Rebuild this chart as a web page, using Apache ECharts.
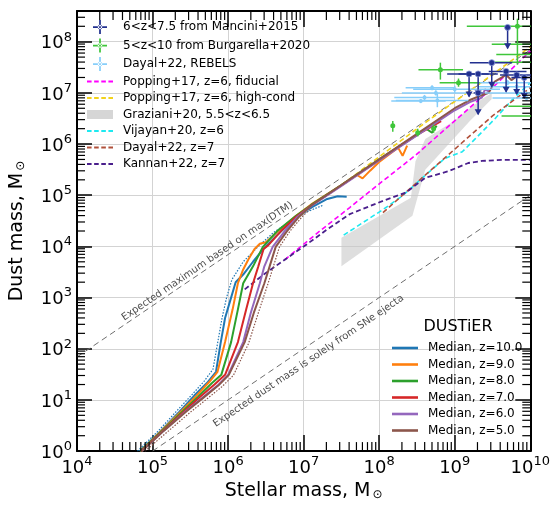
<!DOCTYPE html>
<html>
<head>
<meta charset="utf-8">
<title>Dust mass vs stellar mass</title>
<script src="https://cdn.jsdelivr.net/npm/echarts@6.0.0/dist/echarts.min.js"></script>
<style>
  html, body { margin: 0; padding: 0; background: #fff; }
  #chart { width: 553px; height: 506px; }
</style>
</head>
<body>
<div id="chart"></div>
<script>
// every value is log10(M*), log10(Mdust)

// DUSTiER medians
const z10 = [[4.83,0],[5.1,0.38],[5.35,0.76],[5.55,1.08],[5.72,1.33],[5.84,1.55],[5.9,2.1],[5.96,2.6],[6.03,2.95],[6.1,3.3],[6.2,3.45],[6.33,3.7],[6.48,3.97],[6.65,4.22],[6.85,4.5],[7.05,4.72],[7.3,4.92],[7.45,4.98],[7.57,4.97]];
const z9 = [[4.84,0],[5.12,0.4],[5.38,0.78],[5.58,1.08],[5.75,1.35],[5.86,1.55],[5.96,2.13],[6.06,2.77],[6.13,3.28],[6.2,3.55],[6.27,3.75],[6.35,3.95],[6.42,4.05],[6.5,4.08],[6.7,4.35],[6.9,4.6],[7.1,4.82],[7.5,5.2],[7.7,5.4],[7.78,5.33],[7.88,5.48],[8.0,5.65],[8.25,5.93],[8.31,5.77],[8.37,5.97]];
const z8 = [[4.84,0],[5.13,0.4],[5.4,0.78],[5.6,1.06],[5.78,1.32],[5.91,1.49],[6.04,2.13],[6.13,2.77],[6.2,3.28],[6.33,3.61],[6.46,3.99],[6.65,4.3],[6.9,4.6],[7.1,4.81],[7.5,5.2],[8.0,5.7],[8.5,6.18],[8.62,6.3],[8.7,6.22],[8.76,6.36]];
const z7 = [[4.85,0],[5.14,0.4],[5.42,0.78],[5.63,1.06],[5.82,1.3],[5.96,1.49],[6.13,2.13],[6.24,2.77],[6.33,3.28],[6.4,3.61],[6.47,3.95],[6.53,4.02],[6.7,4.3],[6.9,4.58],[7.1,4.8],[7.5,5.19],[8.0,5.69],[8.5,6.18],[8.82,6.45]];
const z6 = [[4.86,0],[5.15,0.4],[5.44,0.78],[5.66,1.04],[5.86,1.28],[6.0,1.49],[6.2,2.13],[6.3,2.7],[6.42,3.28],[6.48,3.61],[6.59,3.99],[6.75,4.3],[6.92,4.58],[7.1,4.79],[7.5,5.18],[8.0,5.68],[8.5,6.17],[9.0,6.66],[9.2,6.82],[9.36,6.91],[9.4,7.07],[9.45,7.03]];
const z5 = [[4.86,0],[5.15,0.4],[5.45,0.78],[5.67,1.04],[5.87,1.28],[6.01,1.49],[6.22,2.13],[6.34,2.7],[6.48,3.28],[6.55,3.61],[6.63,3.99],[6.78,4.3],[6.94,4.58],[7.1,4.8],[7.5,5.2],[8.0,5.7],[8.5,6.2],[9.0,6.7],[9.2,6.86],[9.35,6.95],[9.45,7.0],[9.53,7.22],[9.62,7.3],[9.68,7.35],[9.75,7.25],[9.8,7.3]];
// DUSTiER spread (dotted)
const z10Low = [[4.8,0],[5.08,0.4],[5.33,0.8],[5.52,1.1],[5.68,1.36],[5.8,1.6],[5.86,2.1],[5.92,2.6],[5.98,3.0],[6.05,3.35],[6.2,3.7],[6.4,4.0],[6.6,4.27],[6.85,4.52],[7.05,4.68],[7.25,4.8]];
const z5High = [[4.9,0],[5.2,0.38],[5.5,0.76],[5.72,1.02],[5.92,1.26],[6.07,1.48],[6.27,2.1],[6.4,2.7],[6.53,3.28],[6.6,3.61],[6.68,3.99],[6.82,4.3],[6.98,4.58],[7.15,4.82]];

// other models
const poppingFid = [[6.75,3.74],[7.18,4.26],[7.61,4.76],[8.05,5.28],[8.48,5.78],[8.92,6.35],[9.5,7.1],[10.0,7.82]];
const poppingHigh = [[6.9,4.58],[7.5,5.2],[8.5,6.3],[9.5,7.36],[10.0,7.9]];
const vijayan = [[7.53,4.22],[8.05,4.72],[8.31,4.99],[8.61,5.39],[8.87,5.72],[9.1,5.85],[9.27,6.1],[9.53,6.49],[9.75,6.85],[10.0,7.2]];
const dayalZ7 = [[8.05,4.66],[8.5,5.25],[9.0,5.9],[9.5,6.55],[10.0,7.1]];
const kannan = [[6.22,3.16],[6.49,3.47],[6.75,3.74],[7.05,4.05],[7.3,4.32],[7.61,4.63],[8.05,4.89],[8.35,5.05],[8.61,5.34],[8.92,5.47],[9.18,5.63],[9.36,5.67],[9.62,5.69],[10.0,5.69]];
const grazUpper = [[7.5,4.17],[8.42,4.95],[8.48,5.66],[8.61,6.1],[8.97,6.43],[9.36,6.88],[9.49,7.0]];
const grazLower = [[7.5,3.61],[8.44,4.6],[8.61,5.5],[9.2,6.45],[9.49,6.88]];

// reference lines
const dtmLine = [[4,1.84],[10,7.84]];
const sneLine = [[5,0],[10,5]];

// observations: [M, D, Mlow, Mhigh, Dlow, Dhigh]
const mancini = [[9.70,8.28,9.70,9.70,7.87,8.28],[9.49,7.59,9.20,9.76,7.12,7.59],[9.19,7.37,8.90,9.45,6.93,7.37],[9.31,7.37,9.05,9.57,6.95,7.37],[9.31,7.00,9.25,9.37,6.58,7.00],[9.68,7.42,9.45,9.95,7.02,7.42],[9.82,7.35,9.60,10.1,6.98,7.35],[9.92,7.30,9.75,10.1,6.90,7.30]];
const burgarella = [[8.81,7.45,8.52,9.11,7.26,7.59],[9.05,7.20,8.80,9.33,7.12,7.28],[8.18,6.36,8.16,8.20,6.24,6.45],[8.51,6.22,8.50,8.52,6.15,6.30],[8.72,6.30,8.71,8.73,6.22,6.38],[9.83,8.30,9.16,10.3,7.55,8.45],[10.2,7.95,9.49,10.6,7.9,8.0],[10.2,7.75,9.55,10.6,7.7,7.8],[10.3,7.6,9.5,10.8,7.55,7.65],[10.2,6.74,9.71,10.6,6.7,6.8],[10.2,6.55,9.62,10.6,6.5,6.6]];
const rebels = [[8.7,7.10,8.35,9.0,7.05,7.15],[8.77,6.85,8.22,9.18,6.72,6.98],[8.75,7.0,8.3,9.18,6.95,7.05],[8.6,6.91,8.2,9.0,6.86,6.96],[8.55,6.84,8.16,8.88,6.8,6.88],[9.0,7.07,8.45,9.6,7.0,7.14],[9.82,7.12,9.3,10.3,7.05,7.2],[9.92,7.0,9.4,10.3,6.93,7.07],[9.7,7.2,9.25,10.2,7.15,7.25],[9.95,6.9,9.5,10.4,6.85,6.95]];

const FONT = "DejaVu Sans";
const xMin = 1e4, xMax = 1e10, yMin = 1, yMax = Math.pow(10, 8.6);
const lin = (rows) => rows.map((r) => r.map((v) => Math.pow(10, v)));

const minorX = [];
for (let n = 4; n < 10; n++) for (let k = 2; k < 10; k++) minorX.push([k * Math.pow(10, n), yMin]);
const minorY = [];
for (let n = 0; n < 9; n++) for (let k = 2; k < 10; k++) {
  if (k * Math.pow(10, n) < yMax) minorY.push([xMin, k * Math.pow(10, n)]);
}

const tickStyle = { stroke: "#000", lineWidth: 1.2 };

const minorTickX = (params, api) => {
  const b = api.coord([api.value(0), yMin]);
  const t = api.coord([api.value(0), yMax]);
  return {
    type: "group",
    children: [
      { type: "line", shape: { x1: b[0], y1: b[1], x2: b[0], y2: b[1] - 9 }, style: tickStyle },
      { type: "line", shape: { x1: t[0], y1: t[1], x2: t[0], y2: t[1] + 9 }, style: tickStyle },
    ],
  };
};
const minorTickY = (params, api) => {
  const l = api.coord([xMin, api.value(1)]);
  const r = api.coord([xMax, api.value(1)]);
  return {
    type: "group",
    children: [
      { type: "line", shape: { x1: l[0], y1: l[1], x2: l[0] + 8, y2: l[1] }, style: tickStyle },
      { type: "line", shape: { x1: r[0], y1: r[1], x2: r[0] - 8, y2: r[1] }, style: tickStyle },
    ],
  };
};

// error bars, optional downward arrow for upper limits
const errorBars = (color, dot, arrow) => (params, api) => {
  const c = api.coord([api.value(0), api.value(1)]);
  const l = api.coord([api.value(2), api.value(1)]);
  const r = api.coord([api.value(3), api.value(1)]);
  const lo = api.coord([api.value(0), api.value(4)]);
  const hi = api.coord([api.value(0), api.value(5)]);
  const st = { stroke: color, lineWidth: 1.5 };
  const kids = [
    { type: "line", shape: { x1: l[0], y1: c[1], x2: r[0], y2: c[1] }, style: st },
    { type: "line", shape: { x1: c[0], y1: lo[1], x2: c[0], y2: hi[1] }, style: st },
  ];
  if (arrow) {
    kids.push({
      type: "polygon",
      shape: { points: [[lo[0] - 3.5, lo[1] - 5], [lo[0] + 3.5, lo[1] - 5], [lo[0], lo[1] + 1]] },
      style: { fill: color },
    });
  }
  kids.push({ type: "circle", shape: { cx: c[0], cy: c[1], r: dot }, style: { fill: color, stroke: "#8a9ad8", lineWidth: arrow ? 0.8 : 0 } });
  return { type: "group", children: kids };
};

const grazPoly = lin(grazUpper.concat(grazLower.slice().reverse()));
const grazRender = (params, api) => ({
  type: "polygon",
  shape: { points: grazPoly.map((p) => api.coord(p)) },
  style: { fill: "rgba(200,200,200,0.6)", stroke: "none" },
});

const dashed = (name, data, color, width) => ({
  name,
  type: "line",
  data: lin(data),
  symbol: "none",
  z: 3,
  itemStyle: { color },
  lineStyle: { color, width: width || 1.6, type: [5, 3] },
});
const median = (name, data, color) => ({
  name,
  type: "line",
  data: lin(data),
  symbol: "none",
  z: 4,
  itemStyle: { color },
  lineStyle: { color, width: 2 },
});
const dotted = (name, data, color) => ({
  name,
  type: "line",
  data: lin(data),
  symbol: "none",
  z: 4,
  lineStyle: { color, width: 1.2, type: [1.5, 1.5] },
});
const refLine = (name, data) => ({
  name,
  type: "line",
  data: lin(data),
  symbol: "none",
  z: 2,
  silent: true,
  lineStyle: { color: "#6e6e6e", width: 1, type: [6, 4] },
});

const crossIcon = "path://M0,7H16V9H0Z M7,0H9V16H7Z M8,5.4A2.6,2.6 0 1,0 8.001,5.4Z";
const dashIcon = "path://M0,0H4.5V1.8H0Z M7,0H11.5V1.8H7Z M14,0H18.5V1.8H14Z M21,0H25.5V1.8H21Z";
const solidIcon = "path://M0,0H26V2.6H0Z";
const label = (v) => "{b|10}{s|" + Math.round(Math.log10(v)) + "}";
const baseAxis = { type: "log", logBase: 10 };

const option = {
  animation: false,
  backgroundColor: "#fff",
  textStyle: { fontFamily: FONT },
  grid: { left: 77, right: 17, top: 11, bottom: 49 },
  xAxis: [
    {
      ...baseAxis,
      min: xMin,
      max: xMax,
      name: "Stellar mass, M{sub|\u2299}",
      nameLocation: "middle",
      nameGap: 26,
      nameTextStyle: { fontFamily: FONT, fontSize: 19, color: "#000", rich: { sub: { fontSize: 12, verticalAlign: "bottom", padding: [6, 0, 0, 2] } } },
      axisLine: { lineStyle: { color: "#000", width: 2 } },
      axisTick: { inside: true, length: 16, lineStyle: { color: "#000", width: 1.5 } },
      axisLabel: {
        margin: 4,
        formatter: label,
        rich: {
          b: { fontFamily: FONT, fontSize: 18, color: "#000", lineHeight: 22, verticalAlign: "bottom" },
          s: { fontFamily: FONT, fontSize: 13, color: "#000", lineHeight: 13, verticalAlign: "top" },
        },
      },
      splitLine: { show: true, lineStyle: { color: "#d3d3d3", width: 1 } },
    },
    {
      ...baseAxis,
      min: xMin,
      max: xMax,
      position: "top",
      axisLine: { lineStyle: { color: "#000", width: 2 } },
      axisTick: { inside: true, length: 16, lineStyle: { color: "#000", width: 1.5 } },
      axisLabel: { show: false },
      splitLine: { show: false },
    },
  ],
  yAxis: [
    {
      ...baseAxis,
      min: yMin,
      max: yMax,
      name: "Dust mass, M{sub|\u2299}",
      nameLocation: "middle",
      nameGap: 50,
      nameTextStyle: { fontFamily: FONT, fontSize: 19, color: "#000", rich: { sub: { fontSize: 12, verticalAlign: "bottom", padding: [6, 0, 0, 2] } } },
      axisLine: { lineStyle: { color: "#000", width: 2 } },
      axisTick: { inside: true, length: 15, lineStyle: { color: "#000", width: 1.5 } },
      axisLabel: {
        margin: 5,
        showMaxLabel: false,
        formatter: label,
        rich: {
          b: { fontFamily: FONT, fontSize: 18, color: "#000", lineHeight: 22, verticalAlign: "bottom" },
          s: { fontFamily: FONT, fontSize: 13, color: "#000", lineHeight: 13, verticalAlign: "top" },
        },
      },
      splitLine: { show: true, lineStyle: { color: "#d3d3d3", width: 1 } },
    },
    {
      ...baseAxis,
      min: yMin,
      max: yMax,
      position: "right",
      axisLine: { lineStyle: { color: "#000", width: 2 } },
      axisTick: { inside: true, length: 15, lineStyle: { color: "#000", width: 1.5 } },
      axisLabel: { show: false },
      splitLine: { show: false },
    },
  ],
  legend: [
    {
      left: 82,
      top: 15,
      orient: "vertical",
      itemWidth: 26,
      itemHeight: 14,
      itemGap: 4.5,
      textStyle: { fontFamily: FONT, fontSize: 12, color: "#000", padding: [0, 0, 0, 5] },
      data: [
        { name: "6<z<7.5 from Mancini+2015", icon: crossIcon },
        { name: "5<z<10 from Burgarella+2020", icon: crossIcon },
        { name: "Dayal+22, REBELS", icon: crossIcon },
        { name: "Popping+17, z=6, fiducial", icon: dashIcon },
        { name: "Popping+17, z=6, high-cond", icon: dashIcon },
        { name: "Graziani+20, 5.5<z<6.5", icon: "path://M0,0H26V9H0Z" },
        { name: "Vijayan+20, z=6", icon: dashIcon },
        { name: "Dayal+22, z=7", icon: dashIcon },
        { name: "Kannan+22, z=7", icon: dashIcon },
      ],
    },
    {
      left: 387,
      top: 337,
      orient: "vertical",
      itemWidth: 26,
      itemHeight: 14,
      itemGap: 4.5,
      textStyle: { fontFamily: FONT, fontSize: 12, color: "#000", padding: [0, 0, 0, 5] },
      data: ["Median, z=10.0", "Median, z=9.0", "Median, z=8.0", "Median, z=7.0", "Median, z=6.0", "Median, z=5.0"]
        .map((name) => ({ name, icon: solidIcon })),
    },
  ],
  series: [
    refLine("dtm", dtmLine),
    refLine("sne", sneLine),
    {
      name: "Graziani+20, 5.5<z<6.5",
      type: "custom",
      data: [grazPoly[0]],
      renderItem: grazRender,
      itemStyle: { color: "rgba(200,200,200,0.75)" },
      z: 1,
    },
    dashed("Popping+17, z=6, fiducial", poppingFid, "#ff00ff"),
    dashed("Popping+17, z=6, high-cond", poppingHigh, "#f2d21b"),
    dashed("Vijayan+20, z=6", vijayan, "#1de9f0"),
    dashed("Dayal+22, z=7", dayalZ7, "#b0503a"),
    dashed("Kannan+22, z=7", kannan, "#4a1f8c", 1.8),
    dotted("z10 spread", z10Low, "#1f77b4"),
    dotted("z5 spread", z5High, "#8c564b"),
    median("Median, z=10.0", z10, "#1f77b4"),
    median("Median, z=9.0", z9, "#ff7f0e"),
    median("Median, z=8.0", z8, "#2ca02c"),
    median("Median, z=7.0", z7, "#d62728"),
    median("Median, z=6.0", z6, "#9467bd"),
    median("Median, z=5.0", z5, "#8c564b"),
    {
      name: "Dayal+22, REBELS",
      type: "custom",
      clip: true,
      z: 5,
      data: lin(rebels),
      itemStyle: { color: "#87cefa" },
      renderItem: errorBars("#87cefa", 2, false),
    },
    {
      name: "5<z<10 from Burgarella+2020",
      type: "custom",
      clip: true,
      z: 5,
      data: lin(burgarella),
      itemStyle: { color: "#3fc63a" },
      renderItem: errorBars("#3fc63a", 2.5, false),
    },
    {
      name: "6<z<7.5 from Mancini+2015",
      type: "custom",
      clip: true,
      z: 6,
      data: lin(mancini),
      itemStyle: { color: "#22308f" },
      renderItem: errorBars("#22308f", 3, true),
    },
    { name: "minorX", type: "custom", silent: true, z: 7, data: minorX, renderItem: minorTickX },
    { name: "minorY", type: "custom", silent: true, z: 7, data: minorY, renderItem: minorTickY },
  ],
};

const chart = echarts.init(document.getElementById("chart"));
chart.setOption(option);

// rotated captions along the two reference lines
const px = (p) => chart.convertToPixel({ gridIndex: 0 }, [Math.pow(10, p[0]), Math.pow(10, p[1])]);
const caption = (line, atLogM, offset, text) => {
  const a = px(line[0]);
  const b = px(line[1]);
  const ang = Math.atan2(a[1] - b[1], b[0] - a[0]);
  const slope = (line[1][1] - line[0][1]) / (line[1][0] - line[0][0]);
  const c = px([atLogM, line[0][1] + slope * (atLogM - line[0][0])]);
  return {
    type: "text",
    x: c[0] - offset * Math.sin(ang),
    y: c[1] - offset * Math.cos(ang),
    rotation: ang,
    style: { text, fontFamily: FONT, fontSize: 10, fill: "#4d4d4d", align: "center", verticalAlign: "middle" },
    z: 10,
  };
};
chart.setOption({
  graphic: [
    caption(dtmLine, 5.77, 6, "Expected maximum based on max(DTM)"),
    caption(sneLine, 6.97, -13, "Expected dust mass is solely from SNe ejecta"),
    {
      type: "text",
      x: 458,
      y: 327,
      style: { text: "DUSTiER", fontFamily: FONT, fontSize: 16, fill: "#000", align: "center", verticalAlign: "middle" },
      z: 10,
    },
  ],
});
</script>
</body>
</html>
